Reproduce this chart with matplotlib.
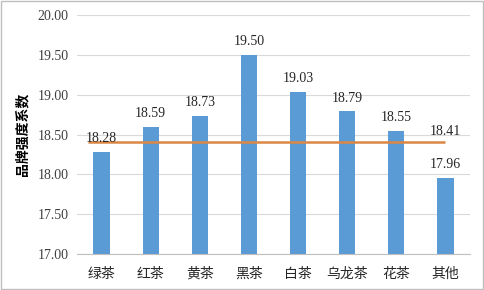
import matplotlib
matplotlib.use("Agg")
import matplotlib.pyplot as plt
from matplotlib.patches import Rectangle

categories = ["绿茶", "红茶", "黄茶", "黑茶", "白茶", "乌龙茶", "花茶", "其他"]
values = [18.28, 18.59, 18.73, 19.50, 19.03, 18.79, 18.55, 17.96]
average = 18.41
yticks = [17.00, 17.50, 18.00, 18.50, 19.00, 19.50, 20.00]
ylabel = "品牌强度系数"

cjk = ["Noto Sans CJK SC", "DejaVu Sans"]
serif = ["Liberation Serif", "DejaVu Serif"]

fig = plt.figure(figsize=(4.84, 2.9), dpi=100)
fig.patches.append(Rectangle((0.002, 0.003), 0.995, 0.993, transform=fig.transFigure,
                             fill=False, edgecolor="#BFBFBF", linewidth=1.0))
ax = fig.add_axes([0.159, 0.124, 0.812, 0.824])

x = list(range(len(categories)))
ax.bar(x, values, width=0.33, color="#5B9BD5", zorder=2)
ax.hlines(average, -0.28, len(categories) - 1, color="#DC8744", linewidth=1.8, zorder=3)

for xi, v in zip(x, values):
    ax.annotate(f"{v:.2f}", (xi, v), xytext=(0, 5), textcoords="offset points",
                ha="center", va="bottom", fontsize=10, family=serif, color="#262626", zorder=4)
ax.annotate(f"{average:.2f}", (len(categories) - 1, average), xytext=(0, 3),
            textcoords="offset points", ha="center", va="bottom", fontsize=10,
            family=serif, color="#262626", zorder=4)

ax.set_ylim(17.0, 20.0)
ax.set_xlim(-0.5, len(categories) - 0.5)
ax.set_yticks(yticks)
ax.set_yticklabels([f"{t:.2f}" for t in yticks], fontsize=10, family=serif, color="#404040")
ax.set_xticks(x)
ax.set_xticklabels(categories, fontsize=10, family=cjk, color="#262626")
ax.tick_params(axis="y", length=0, pad=6)
ax.tick_params(axis="x", length=0, pad=9)
ax.yaxis.grid(True, color="#D9D9D9", linewidth=0.8, zorder=0)
ax.set_axisbelow(True)
for s in ["top", "right", "left"]:
    ax.spines[s].set_visible(False)
ax.spines["bottom"].set_color("#BFBFBF")
ax.set_ylabel(ylabel, fontsize=10, family=cjk, fontweight="bold", color="#000000", labelpad=6)

fig.savefig("out.png", dpi=100)
